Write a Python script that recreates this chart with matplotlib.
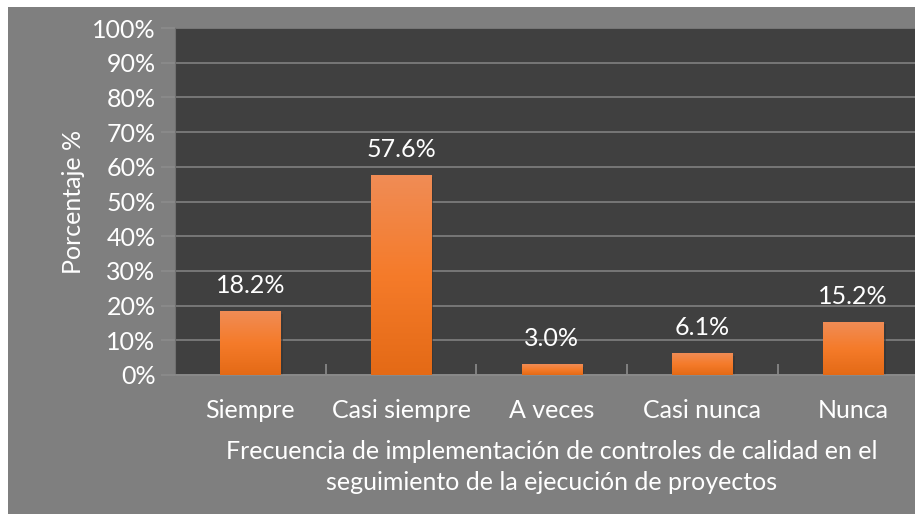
import numpy as np
import matplotlib
matplotlib.use("Agg")
import matplotlib.pyplot as plt
from matplotlib.patches import Rectangle
from matplotlib.ticker import MultipleLocator, FuncFormatter, FixedLocator

plt.rcParams['font.family'] = ['Lato', 'DejaVu Sans']

# === data ===
categories = ["Siempre", "Casi siempre", "A veces", "Casi nunca", "Nunca"]
values = [18.2, 57.6, 3.0, 6.1, 15.2]
xlabel = "Frecuencia de implementación de controles de calidad en el\nseguimiento de la ejecución de proyectos"
ylabel = "Porcentaje %"

W, H = 915, 514
fig = plt.figure(figsize=(W / 100, H / 100), dpi=100, facecolor="white")
# grey chart background
fig.patches.append(Rectangle((8 / W, 0), 1, (H - 7) / H, transform=fig.transFigure,
                             facecolor="#7f7f7f", edgecolor="none", zorder=-10))

left, right, top, bottom = 175, 928.5, 28, 375
ax = fig.add_axes([left / W, (H - bottom) / H, (right - left) / W, (bottom - top) / H])
ax.set_facecolor("#404040")

x = np.arange(len(categories))
bw = 0.4

# gradient bars
grad = np.linspace(0, 1, 100).reshape(-1, 1)
cmap = matplotlib.colors.LinearSegmentedColormap.from_list("og", ["#e46a16", "#f57b2a", "#f08c55"])
for xi, v in zip(x, values):
    # soft shadow
    ax.add_patch(Rectangle((xi - bw / 2 + 0.015, -0.6), bw, v, facecolor="#333333",
                           edgecolor="none", zorder=2, alpha=0.6))
    ax.imshow(grad, extent=(xi - bw / 2, xi + bw / 2, 0, v), origin="lower",
              cmap=cmap, aspect="auto", zorder=3, interpolation="bilinear")
    ax.text(xi, v + 4.2, f"{v:.1f}%", ha="center", va="bottom", color="white", fontsize=18)
ax.set_xlim(-0.5, len(categories) - 0.5)
ax.set_ylim(0, 100)

ax.yaxis.set_major_locator(MultipleLocator(10))
ax.yaxis.set_major_formatter(FuncFormatter(lambda v, p: f"{v:.0f}%"))
ax.grid(axis="y", color="#808080", linewidth=1.2, zorder=1)
ax.set_axisbelow(True)
ax.tick_params(axis="y", colors="#8c8c8c", length=10, width=1.2, labelcolor="white",
               labelsize=18, pad=4)

ax.set_xticks(x)
ax.set_xticklabels(categories)
ax.xaxis.set_minor_locator(FixedLocator(x[:-1] + 0.5))
ax.tick_params(axis="x", which="major", length=0, labelcolor="white", labelsize=18, pad=17)
ax.tick_params(axis="x", which="minor", direction="in", length=8, color="#8c8c8c", width=1.2)

for s in ["top", "right"]:
    ax.spines[s].set_visible(False)
ax.spines["left"].set_color("#707070")
ax.spines["bottom"].set_color("#8c8c8c")
ax.spines["bottom"].set_linewidth(1.2)

ax.set_xlabel(xlabel, color="white", fontsize=18, labelpad=13, linespacing=1.42)
ax.set_ylabel(ylabel, color="white", fontsize=18, labelpad=5)

fig.savefig("out.png", dpi=100, facecolor="white")
